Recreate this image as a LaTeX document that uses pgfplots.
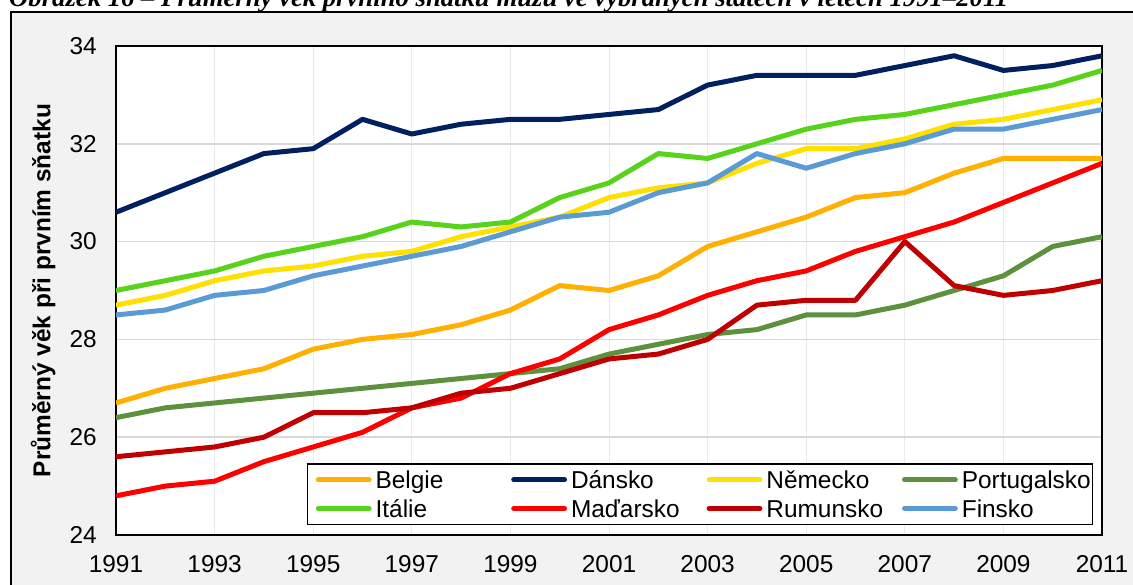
\documentclass[border=0pt]{standalone}
\usepackage{fontspec}
\setmainfont{Liberation Sans}
\newfontfamily\titlefont{Liberation Serif}
\usepackage{pgfplots}
\usepackage{pgfplotstable}
\pgfplotsset{compat=1.18}

\definecolor{cBelgie}{HTML}{FFB000}
\definecolor{cDansko}{HTML}{002060}
\definecolor{cNemecko}{HTML}{FFE000}
\definecolor{cPortugal}{HTML}{5E913D}
\definecolor{cItalie}{HTML}{57D31B}
\definecolor{cMadarsko}{HTML}{FF0000}
\definecolor{cRumunsko}{HTML}{C00000}
\definecolor{cFinsko}{HTML}{5B9BD5}
\definecolor{bggray}{HTML}{F2F2F2}
\definecolor{gridy}{HTML}{D9D9D9}
\definecolor{gridx}{HTML}{EBEBEB}

\pgfplotstableread{
year Belgie Dansko Nemecko Portugalsko Italie Madarsko Rumunsko Finsko
1991 26.7 30.6 28.7 26.4 29.0 24.8 25.6 28.5
1992 27.0 31.0 28.9 26.6 29.2 25.0 25.7 28.6
1993 27.2 31.4 29.2 26.7 29.4 25.1 25.8 28.9
1994 27.4 31.8 29.4 26.8 29.7 25.5 26.0 29.0
1995 27.8 31.9 29.5 26.9 29.9 25.8 26.5 29.3
1996 28.0 32.5 29.7 27.0 30.1 26.1 26.5 29.5
1997 28.1 32.2 29.8 27.1 30.4 26.6 26.6 29.7
1998 28.3 32.4 30.1 27.2 30.3 26.8 26.9 29.9
1999 28.6 32.5 30.3 27.3 30.4 27.3 27.0 30.2
2000 29.1 32.5 30.5 27.4 30.9 27.6 27.3 30.5
2001 29.0 32.6 30.9 27.7 31.2 28.2 27.6 30.6
2002 29.3 32.7 31.1 27.9 31.8 28.5 27.7 31.0
2003 29.9 33.2 31.2 28.1 31.7 28.9 28.0 31.2
2004 30.2 33.4 31.6 28.2 32.0 29.2 28.7 31.8
2005 30.5 33.4 31.9 28.5 32.3 29.4 28.8 31.5
2006 30.9 33.4 31.9 28.5 32.5 29.8 28.8 31.8
2007 31.0 33.6 32.1 28.7 32.6 30.1 30.0 32.0
2008 31.4 33.8 32.4 29.0 32.8 30.4 29.1 32.3
2009 31.7 33.5 32.5 29.3 33.0 30.8 28.9 32.3
2010 31.7 33.6 32.7 29.9 33.2 31.2 29.0 32.5
2011 31.7 33.8 32.9 30.1 33.5 31.6 29.2 32.7
}\datatable

\newcommand{\lt}[1]{\makebox[133bp][l]{\hspace{4bp}#1}}

\begin{document}
\begin{tikzpicture}[x=1bp,y=1bp]
\fill[white] (0,0) rectangle (1133,585);
\fill[bggray] (11,-5) rectangle (1140,573);
\draw[line width=1.5bp] (11,-5) -- (11,573) -- (1140,573);
\node[anchor=base west, inner sep=0, font=\titlefont\bfseries\itshape\fontsize{26.8}{30}\selectfont] at (9,578) {Obrázek 16 – Průměrný věk prvního sňatku mužů ve vybraných státech v letech 1991–2011};
\begin{axis}[
  at={(116bp,50bp)}, anchor=south west,
  scale only axis, width=986bp, height=489bp,
  xmin=1991, xmax=2011, ymin=24, ymax=34,
  xtick={1991,1993,...,2011}, ytick={24,26,...,34},
  xmajorgrids, ymajorgrids,
  x grid style={color=gridx, line width=1bp},
  y grid style={color=gridy, line width=1.5bp},
  major tick length=0pt,
  axis line style={line width=1.5bp, black},
  axis background/.style={fill=white},
  /pgf/number format/1000 sep={},
  /pgf/number format/assume math mode=true,
  ticklabel style={font=\fontsize{24.5}{28}\selectfont},
  yticklabel style={inner sep=0pt, xshift=-19bp},
  xticklabel style={inner sep=0pt, yshift=-20bp},
  ylabel={\bfseries Průměrný věk při prvním sňatku},
  ylabel style={font=\fontsize{24.5}{28}\selectfont, at={(axis description cs:-0.074,0.5)}, anchor=center},
  legend columns=4,
  legend style={at={(rel axis cs:0.1937,0.0204)}, anchor=south west, draw=black, line width=1.5bp, fill=white,
    font=\fontsize{24.5}{28}\selectfont, inner xsep=1.5bp, inner ysep=2bp,
    nodes={inner sep=0bp, text height=22.5bp, text depth=5bp},
    column sep=0bp, row sep=1.2bp},
  legend image code/.code={\path[draw=none, fill=none] (0bp,0bp) -- (60bp,0bp);
    \draw[#1, line width=4.8bp, line cap=round] (9bp,0bp) -- (60bp,0bp);},
  every axis plot/.append style={line width=5bp, line join=round, no markers},
]
\addplot[cBelgie] table[x=year,y=Belgie] {\datatable};
\addlegendentry{\lt{Belgie}}
\addplot[cDansko] table[x=year,y=Dansko] {\datatable};
\addlegendentry{\lt{Dánsko}}
\addplot[cNemecko] table[x=year,y=Nemecko] {\datatable};
\addlegendentry{\lt{Německo}}
\addplot[cPortugal] table[x=year,y=Portugalsko] {\datatable};
\addlegendentry{\lt{Portugalsko}}
\addplot[cItalie] table[x=year,y=Italie] {\datatable};
\addlegendentry{\lt{Itálie}}
\addplot[cMadarsko] table[x=year,y=Madarsko] {\datatable};
\addlegendentry{\lt{Maďarsko}}
\addplot[cRumunsko] table[x=year,y=Rumunsko] {\datatable};
\addlegendentry{\lt{Rumunsko}}
\addplot[cFinsko] table[x=year,y=Finsko] {\datatable};
\addlegendentry{\lt{Finsko}}
\end{axis}
\pgfresetboundingbox
\path[use as bounding box] (0,0) rectangle (1133,585);
\end{tikzpicture}
\end{document}
